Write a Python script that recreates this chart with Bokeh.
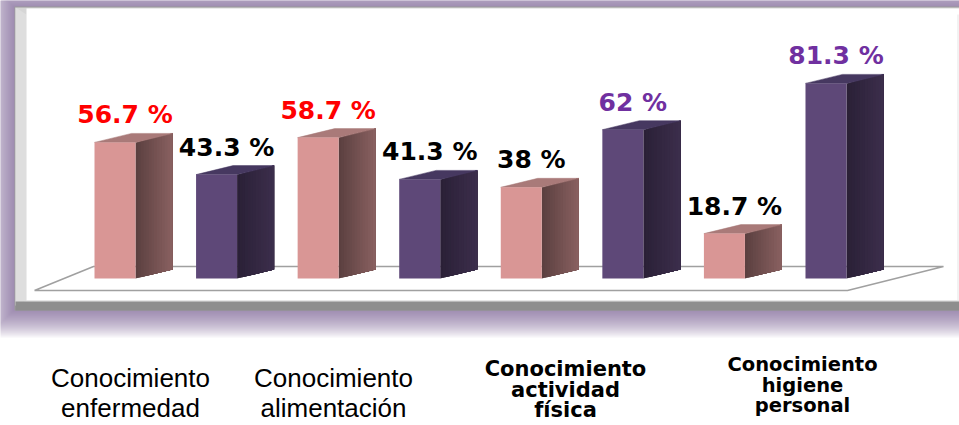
from bokeh.plotting import figure
from bokeh.models import Range1d
from bokeh.core.properties import value
from bokeh.embed import file_html
from bokeh.resources import INLINE

# ---------------- data ----------------
categories = ["Conocimiento\nenfermedad", "Conocimiento\nalimentación",
              "Conocimiento\nactividad\nfísica", "Conocimiento\nhigiene\npersonal"]
series_a = [56.7, 58.7, 38.0, 18.7]   # pink bars
series_b = [43.3, 41.3, 62.0, 81.3]   # purple bars
labels_a = ["56.7 %", "58.7 %", "38 %", "18.7 %"]
labels_b = ["43.3 %", "41.3 %", "62 %", "81.3 %"]
label_colors_a = ["#ff0000", "#ff0000", "#000000", "#000000"]
label_colors_b = ["#000000", "#000000", "#7030a0", "#7030a0"]

# ---------------- layout helpers ----------------
X0, SX = 114.5, 101.57   # page px of slot 0, px per slot
Y0, SY = 278.0, 2.4      # page px of value 0, px per unit
PW, PH = 959, 425

def px(X):
    return (X - X0) / SX

def py(Y):
    return (Y0 - Y) / SY

W = 41 / SX          # front width
D = 37 / SX          # depth x
DY = 9 / SY          # depth y
TXT_SHIFT = 0.34     # baseline correction, in em

p = figure(width=PW, height=PH, output_backend="svg", toolbar_location=None,
           x_range=Range1d(px(0), px(PW)), y_range=Range1d(py(PH), py(0)),
           min_border=0, outline_line_color=None, background_fill_color="white",
           border_fill_color="white")
p.axis.visible = False
p.grid.visible = False

# glow around panel
for k in range(1, 15):
    d = 2 * k
    p.quad(left=px(14 - d), right=px(990), top=py(7 - d), bottom=py(309 + d),
           fill_color="#6e5a94", fill_alpha=0.07, line_color=None)

# panel
p.quad(left=px(14), right=px(990), top=py(6), bottom=py(310), fill_color="#9a9a9a", line_color=None)
p.quad(left=px(15), right=px(990), top=py(7), bottom=py(305), fill_color="#d6d6d6", line_color=None)
p.patch(x=[px(15), px(26), px(26), px(15)], y=[py(7), py(14), py(300), py(305)],
        fill_color="#dedede", line_color=None)
p.quad(left=px(26), right=px(990), top=py(8), bottom=py(300), fill_color="white", line_color=None)
p.quad(left=px(957), right=px(958), top=py(14), bottom=py(300), fill_color="#e6e6e6", line_color=None)
p.patch(x=[px(15), px(26), px(990), px(990)], y=[py(305), py(300), py(300), py(305)],
        fill_color="#e4e4e4", line_color=None)
p.quad(left=px(15), right=px(990), top=py(301), bottom=py(310), fill_color="#8e8e8e", line_color=None)

# floor
p.line(x=[px(34), px(93), px(943), px(847), px(34)],
       y=[py(290), py(266), py(266), py(290), py(290)],
       line_color="#a0a0a0", line_width=1.5)

# bars
def lerp(c1, c2, t):
    a = [int(c1[i:i + 2], 16) for i in (1, 3, 5)]
    b = [int(c2[i:i + 2], 16) for i in (1, 3, 5)]
    return "#%02x%02x%02x" % tuple(int(round(a[j] + (b[j] - a[j]) * t)) for j in range(3))

styles = {
    "a": dict(front="#d99695", side0="#5a3f3f", side1="#8a6161", top="#a97a79"),
    "b": dict(front="#5e4878", side0="#2a2036", side1="#3c2e4c", top="#463860"),
}

xs_all, vals_all, kinds, texts, tcolors = [], [], [], [], []
for i in range(len(categories)):
    xs_all += [2 * i, 2 * i + 1]
    vals_all += [series_a[i], series_b[i]]
    kinds += ["a", "b"]
    texts += [labels_a[i], labels_b[i]]
    tcolors += [label_colors_a[i], label_colors_b[i]]

NS = 14
for x, v, k in zip(xs_all, vals_all, kinds):
    st = styles[k]
    xr = x + W / 2
    # side face gradient: overlapping strips, each reaching the back edge
    sxs, sys, scs = [], [], []
    for s in range(NS):
        t0 = s / NS
        sxs.append([xr + D * t0, xr + D, xr + D, xr + D * t0])
        sys.append([v + DY * t0, v + DY, DY, DY * t0])
        scs.append(lerp(st["side0"], st["side1"], (s + 0.5) / NS))
    p.patches(xs=sxs, ys=sys, fill_color=scs, line_color=None)
    # top face
    p.patch(x=[x - W / 2, xr, xr + D, x - W / 2 + D], y=[v, v, v + DY, v + DY],
            fill_color=st["top"], line_color=st["top"], line_width=0.5)
    # front face
    p.vbar(x=x, top=v, bottom=0, width=W, fill_color=st["front"], line_color=None)

# value labels
vsize = 25
p.text(x=[x + 10 / SX for x in xs_all],
       y=[v + (19 + TXT_SHIFT * vsize) / SY for v in vals_all], text=texts,
       text_color=tcolors, text_font=value("DejaVu Sans"), text_font_style="bold",
       text_font_size=f"{vsize}px", text_align="center", text_baseline="alphabetic")

# category labels
label_x = [130, 333, 565, 802]
first_base = [386, 386, 376, 371]
line_step = [30.5, 30.5, 20.5, 20.5]
fonts = ["Liberation Sans", "Liberation Sans", "DejaVu Sans", "DejaVu Sans"]
fstyles = ["normal", "normal", "bold", "bold"]
fsizes = [26, 26, 21, 19.5]
for i, cat in enumerate(categories):
    lines = cat.split("\n")
    p.text(x=[px(label_x[i])] * len(lines),
           y=[py(first_base[i] + j * line_step[i] - TXT_SHIFT * fsizes[i]) for j in range(len(lines))],
           text=lines, text_color="#000000", text_font=value(fonts[i]),
           text_font_style=fstyles[i], text_font_size=f"{fsizes[i]}px",
           text_align="center", text_baseline="alphabetic")

open("out.html", "w").write(file_html(p, INLINE))
